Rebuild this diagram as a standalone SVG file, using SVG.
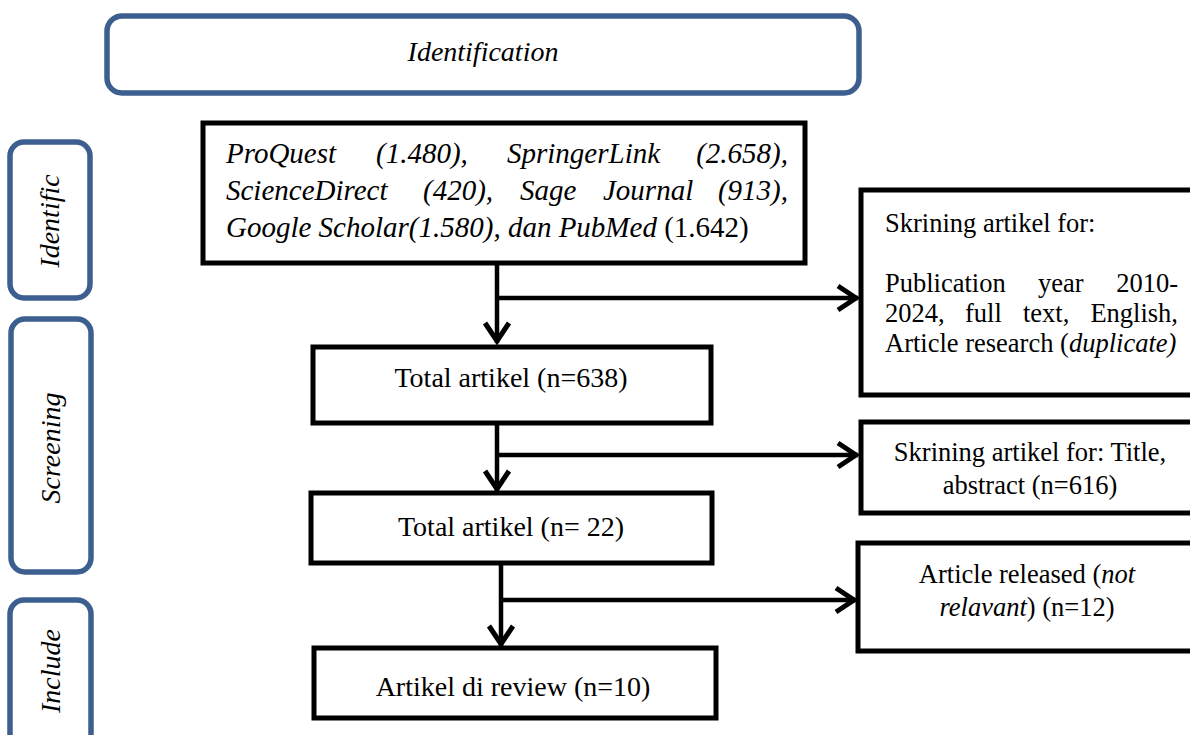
<svg xmlns="http://www.w3.org/2000/svg" width="1190" height="735" viewBox="0 0 1190 735">
<defs>
<style>
.stage{fill:#fff;stroke:#3c5f8f;stroke-width:5.5}
.box{fill:#fff;stroke:#000;stroke-width:5}
.t{font-family:"Liberation Serif","Times New Roman",serif;fill:#000}
.i{font-style:italic}
.con{fill:none;stroke:#000;stroke-width:4.5}
</style>
<marker id="arr" markerUnits="userSpaceOnUse" markerWidth="40" markerHeight="40" viewBox="-25 -20 30 40" refX="0" refY="0" orient="auto" overflow="visible">
<path d="M-20,-12 L-2,0 L-20,12" fill="none" stroke="#000" stroke-width="5" stroke-linejoin="miter"/>
</marker>
</defs>
<rect width="1190" height="735" fill="#fff"/>

<g id="stage-top">
<rect class="stage" x="107" y="16" width="752" height="77" rx="15"/>
<text class="t i" x="483" y="61" font-size="28" text-anchor="middle">Identification</text>
</g>

<g id="stage-identific">
<rect class="stage" x="10" y="142" width="80" height="156" rx="14"/>
<text class="t i" transform="translate(50,221) rotate(-90)" y="9" font-size="28" text-anchor="middle">Identific</text>
</g>
<g id="stage-screening">
<rect class="stage" x="11" y="319" width="80" height="253" rx="14"/>
<text class="t i" transform="translate(51,448) rotate(-90)" y="9" font-size="28" text-anchor="middle">Screening</text>
</g>
<g id="stage-include">
<rect class="stage" x="10" y="600" width="81" height="160" rx="14"/>
<text class="t i" transform="translate(51,671) rotate(-90)" y="9" font-size="28" text-anchor="middle">Include</text>
</g>

<g id="connectors">
<path class="con" d="M497,263 L497,343" marker-end="url(#arr)"/>
<path class="con" d="M497,298 L858,298" marker-end="url(#arr)"/>
<path class="con" d="M497,423 L497,491" marker-end="url(#arr)"/>
<path class="con" d="M497,455 L858,455" marker-end="url(#arr)"/>
<path class="con" d="M501,563 L501,646" marker-end="url(#arr)"/>
<path class="con" d="M501,600 L856,600" marker-end="url(#arr)"/>
</g>

<g id="sources">
<rect class="box" x="203" y="123" width="602" height="140"/>
<g class="t i" font-size="29">
<text x="226" y="163">ProQuest</text>
<text x="376" y="163">(1.480),</text>
<text x="507" y="163">SpringerLink</text>
<text x="788" y="163" text-anchor="end">(2.658),</text>
<text x="226" y="200">ScienceDirect</text>
<text x="423" y="200">(420),</text>
<text x="520" y="200">Sage</text>
<text x="603" y="200">Journal</text>
<text x="788" y="200" text-anchor="end">(913),</text>
<text x="226" y="237">Google Scholar(1.580), dan PubMed <tspan font-style="normal">(1.642)</tspan></text>
</g>
</g>

<g id="total-638">
<rect class="box" x="313" y="347" width="398" height="76"/>
<text class="t" x="511" y="387" font-size="28" text-anchor="middle">Total artikel (n=638)</text>
</g>

<g id="total-22">
<rect class="box" x="311" y="493" width="401" height="70"/>
<text class="t" x="511" y="536" font-size="28" text-anchor="middle">Total artikel (n= 22)</text>
</g>

<g id="review-10">
<rect class="box" x="314" y="648" width="402" height="70"/>
<text class="t" x="513" y="696" font-size="28" text-anchor="middle">Artikel di review (n=10)</text>
</g>

<g id="screen-criteria">
<rect class="box" x="861" y="190" width="340" height="205"/>
<g class="t" font-size="26.5">
<text x="885" y="232">Skrining artikel for:</text>
<text x="885" y="292">Publication</text>
<text x="1038" y="292">year</text>
<text x="1178" y="292" text-anchor="end">2010-</text>
<text x="885" y="322">2024,</text>
<text x="965" y="322">full</text>
<text x="1023" y="322">text,</text>
<text x="1178" y="322" text-anchor="end">English,</text>
<text x="885" y="352">Article research (<tspan font-style="italic">duplicate)</tspan></text>
</g>
</g>

<g id="screen-title">
<rect class="box" x="861" y="422" width="340" height="91"/>
<g class="t" font-size="26.5" text-anchor="middle">
<text x="1030" y="461">Skrining artikel for: Title,</text>
<text x="1030" y="494">abstract (n=616)</text>
</g>
</g>

<g id="released-12">
<rect class="box" x="858" y="543" width="340" height="108"/>
<g class="t" font-size="26.5" text-anchor="middle">
<text x="1027" y="583">Article released (<tspan font-style="italic">not</tspan></text>
<text x="1027" y="616"><tspan font-style="italic">relavant</tspan>) (n=12)</text>
</g>
</g>
</svg>
